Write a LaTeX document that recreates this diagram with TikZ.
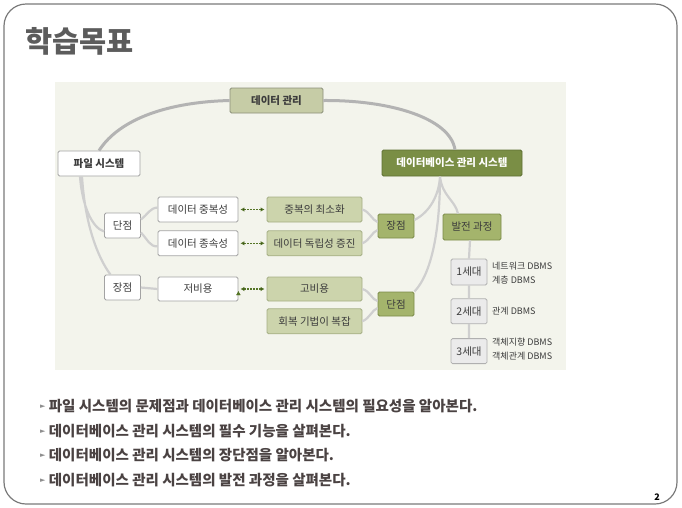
\documentclass[tikz,border=0pt]{standalone}
\usepackage{fontspec}
\setmainfont{Noto Sans CJK KR}
\newfontfamily\symfont{DejaVu Sans}
\usetikzlibrary{arrows.meta,positioning}

\definecolor{panelbg}{HTML}{F3F4EC}
\definecolor{framec}{HTML}{7A7A7A}
\definecolor{boxtext}{HTML}{3C3C3C}
\definecolor{wline}{HTML}{A3A3A3}
\definecolor{lgfill}{HTML}{CCD4AC}
\definecolor{lgline}{HTML}{A5AF84}
\definecolor{mgfill}{HTML}{A4B46C}
\definecolor{mgline}{HTML}{7B8B48}
\definecolor{dgfill}{HTML}{7A8E45}
\definecolor{dgline}{HTML}{5E6F33}
\definecolor{mgmtfill}{HTML}{C6CCA6}
\definecolor{mgmtline}{HTML}{8B907A}
\definecolor{genfill}{HTML}{EBEBEB}
\definecolor{genline}{HTML}{B0B0B0}
\definecolor{linkc}{HTML}{CFCFCF}
\definecolor{arcc}{HTML}{B3B3B3}
\definecolor{dotc}{HTML}{557526}
\definecolor{titlec}{HTML}{5C5C5C}
\definecolor{bulletc}{HTML}{4A4242}
\definecolor{markc}{HTML}{8F8F8F}

\newcommand{\goalmark}{\raisebox{2.5pt}{\symfont\fontsize{7}{8}\selectfont\color{markc}►}}

\begin{document}
\begin{tikzpicture}[x=1pt, y=-1pt, >=Latex,
  every node/.append style={align=center, inner sep=0pt, text=boxtext,
    font=\fontsize{10.5}{12}\selectfont},
  box/.style={draw, rounded corners=1.5pt, line width=0.8pt},
  wbox/.style={box, fill=white, draw=wline, minimum width=80pt, minimum height=25pt},
  lgbox/.style={box, fill=lgfill, draw=lgline, minimum width=95pt, minimum height=25pt},
  mgbox/.style={box, fill=mgfill, draw=mgline, minimum width=36pt, minimum height=24pt},
  genbox/.style={box, fill=genfill, draw=genline, minimum width=36pt, minimum height=25pt},
  genlabel/.style={anchor=west, align=left, font=\fontsize{9}{14}\selectfont},
  link/.style={draw=linkc, line width=2.2pt},
  arc/.style={draw=arcc, line width=3pt},
  dots/.style={draw=dotc, line width=1.6pt, dash pattern=on 1.6pt off 1.4pt,
    {Latex[length=4pt,width=4.5pt]}-{Latex[length=4pt,width=4.5pt]},
    shorten <=2pt, shorten >=2pt},
  goal/.style={anchor=west, text=bulletc, font=\fontsize{14.5}{16}\selectfont\bfseries}]
 \useasboundingbox (0,0) rectangle (682,507);
 \draw[framec, line width=1.2pt, rounded corners=22pt] (4,4) rectangle (677,504);
 \fill[panelbg] (55,82) rectangle (566,370);

 \node[anchor=west, text=titlec, font=\fontsize{29.5}{32}\selectfont\bfseries] (title) at (25,41) {학습목표};

 % top level
 \node[box, fill=mgmtfill, draw=mgmtline, minimum width=93pt, minimum height=25pt, font=\fontsize{10.5}{12}\selectfont\bfseries] (mgmt) at (276.5,100.5) {데이터 관리};
 \node[wbox, minimum width=82pt, font=\fontsize{10.5}{12}\selectfont\bfseries] (file) at (99,163.5) {파일 시스템};
 \node[box, fill=dgfill, draw=dgline, minimum width=140pt, minimum height=26pt, text=white, font=\fontsize{10.5}{12}\selectfont\bfseries] (dbms) at (452,163) {데이터베이스 관리 시스템};

 % file system side
 \node[wbox, minimum width=36pt] (dis1) at (122.5,225.5) {단점};
 \node[wbox, minimum width=36pt] (adv1) at (122.5,287.5) {장점};
 \node[wbox] (dup) at (198,209.5) {데이터 중복성};
 \node[wbox, below=8pt of dup] (dep) {데이터 종속성};
 \node[wbox, minimum height=24pt] (low) at (198,289) {저비용};

 % dbms side
 \node[lgbox] (min) at (314.5,209.5) {중복의 최소화};
 \node[lgbox, below=8pt of min] (ind) {데이터 독립성 증진};
 \node[lgbox, minimum height=24pt] (high) at (314.5,289) {고비용};
 \node[lgbox, below=7pt of high] (rec) {회복 기법이 복잡};
 \node[mgbox] (adv2) at (396,226) {장점};
 \node[mgbox] (dis2) at (396,304) {단점};
 \node[mgbox, minimum width=58pt, minimum height=26pt] (evo) at (472,227) {발전 과정};

 % generations
 \node[genbox, minimum height=26pt] (g1) at (469,272) {1세대};
 \node[genbox, below=13pt of g1] (g2) {2세대};
 \node[genbox, below=14pt of g2] (g3) {3세대};
 \node[genlabel] (g1txt) at (492,273) {네트워크 DBMS\\계층 DBMS};
 \node[genlabel] (g2txt) at (492,311) {관계 DBMS};
 \node[genlabel] (g3txt) at (492,349) {객체지향 DBMS\\객체관계 DBMS};

 % connectors
 \path[arc] (file.north) .. controls (120,118) and (170,102) .. (mgmt.west)
            (mgmt.east) .. controls (390,100) and (450,118) .. ([xshift=3pt]dbms.north);
 \path[link] ([xshift=-19pt]file.south) .. controls (82,205) and (92,228) .. ([yshift=-6pt]dis1.west)
             ([xshift=-17pt]file.south) .. controls (85,225) and (98,258) .. ([xshift=-12pt]adv1.north)
             ([yshift=6pt]dis1.east) .. controls (148,214) and (150,208) .. ([yshift=2pt]dup.west)
             ([yshift=-7pt]dis1.east) .. controls (148,240) and (150,247) .. ([yshift=-3pt]dep.west)
             (adv1.east) -- (low.west)
             (min.east) .. controls (370,212) and (372,220) .. ([yshift=4pt]adv2.west)
             (ind.east) .. controls (370,240) and (372,232) .. ([yshift=-4pt]adv2.west)
             (high.east) .. controls (370,291) and (372,300) .. ([yshift=3pt]dis2.west)
             (rec.east) .. controls (370,318) and (372,310) .. ([yshift=-4pt]dis2.west)
             ([yshift=6pt]adv2.east) .. controls (430,212) and (439,195) .. ([xshift=-12pt]dbms.south)
             (dis2.north east) .. controls (433,272) and (440,225) .. ([xshift=-12pt]dbms.south)
             ([xshift=-12pt]dbms.south) .. controls (442,196) and (455,200) .. ([xshift=-14pt]evo.north)
             ([xshift=-2pt]evo.south) -- (g1.north)
             (g1.south) -- (g2.north)
             (g2.south) -- (g3.north);
 \path[dots] (dup.east) edge (min.west)
             (dep.east) edge (ind.west)
             (low.east) edge (high.west);

 % goals
 \node[goal] (goal1) at (40,406) {\goalmark\ 파일 시스템의 문제점과 데이터베이스 관리 시스템의 필요성을 알아본다.};
 \node[goal] (goal2) at (40,431) {\goalmark\ 데이터베이스 관리 시스템의 필수 기능을 살펴본다.};
 \node[goal] (goal3) at (40,455) {\goalmark\ 데이터베이스 관리 시스템의 장단점을 알아본다.};
 \node[goal] (goal4) at (40,480) {\goalmark\ 데이터베이스 관리 시스템의 발전 과정을 살펴본다.};

 \node[font=\fontsize{9}{10}\selectfont\bfseries, text=black] (page) at (657,497) {2};
\end{tikzpicture}
\end{document}
